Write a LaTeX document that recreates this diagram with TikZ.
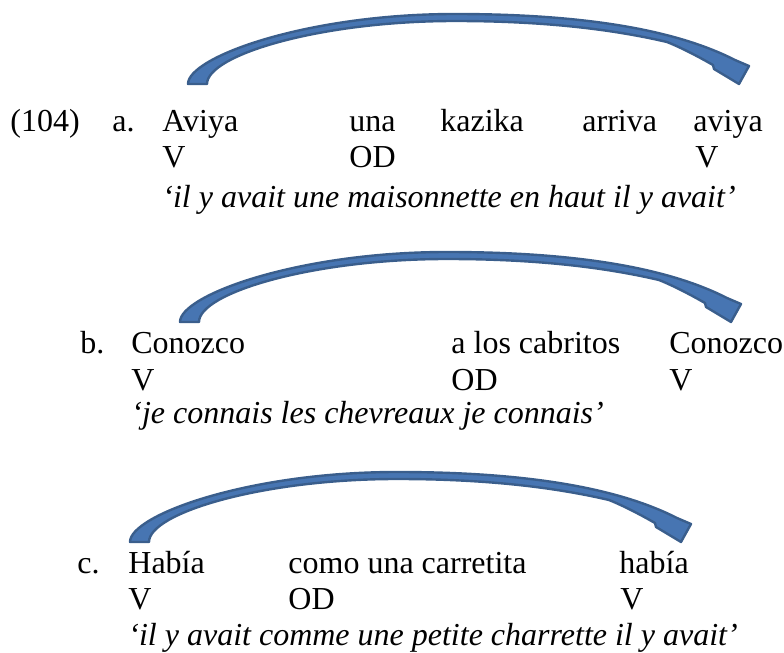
\documentclass[tikz,border=0pt]{standalone}
\usepackage{fontspec}
\setmainfont{Liberation Serif}
\definecolor{arcline}{HTML}{3A5E8C}
\definecolor{arcfill}{HTML}{4775B2}

\begin{document}
\begin{tikzpicture}[x=0.5pt, y=-0.5pt, font=\fontsize{16}{19}\selectfont, word/.style = {anchor=base west, inner sep=0pt}, gloss/.style = {word, font=\fontsize{16}{19}\selectfont\itshape}, arc/.style = {draw=arcline, fill=arcfill, line width=1.2pt, line join=round},
    curved/.pic = {\path[arc] (1,-1) .. controls (1,-28) and (120,-71) .. (268,-71) .. controls (410,-71) and (495,-52) .. (548,-25) -- (562,-19) -- (552,-1) -- (527,-16) -- (526,-20) .. controls (512,-28) and (495,-37) .. (480,-43) .. controls (420,-57) and (350,-64) .. (268,-64) .. controls (133,-64) and (20,-30) .. (20,-1) -- cycle;}]
                    \useasboundingbox (0,0) rectangle (784,653);
                    % (104) a.
                    \node[word] (ex) at (10,132) {(104)};
                    \node[word] (la) at (112,132) {a.};
                    \node[word] (a1) at (162,132) {Aviya};
                    \node[word] (a2) at (349,132) {una};
                    \node[word] (a3) at (440,132) {kazika};
                    \node[word] (a4) at (582,132) {arriva};
                    \node[word] (a5) at (693,132) {aviya};
                    \node[word] (av1) at (162,168) {V};
                    \node[word] (aod) at (349,168) {OD};
                    \node[word] (av2) at (695,168) {V};
                    \node[gloss] (ag) at (162,207) {‘il y avait une maisonnette en haut il y avait’};
                    \pic (arca) at (187,85) {curved};
                    % b.
                    \node[word] (lb) at (80,353) {b.};
                    \node[word] (b1) at (131,353) {Conozco};
                    \node[word] (b2) at (451,353) {a los cabritos};
                    \node[word] (b3) at (669,353) {Conozco};
                    \node[word] (bv1) at (131,390) {V};
                    \node[word] (bod) at (451,390) {OD};
                    \node[word] (bv2) at (669,390) {V};
                    \node[gloss] (bg) at (131,423) {‘je connais les chevreaux je connais’};
                    \pic (arcb) at (179,323) {curved};
                    % c.
                    \node[word] (lc) at (77,573) {c.};
                    \node[word] (c1) at (128,573) {Había};
                    \node[word] (c2) at (288,573) {como una carretita};
                    \node[word] (c3) at (619,573) {había};
                    \node[word] (cv1) at (128,610) {V};
                    \node[word] (cod) at (288,610) {OD};
                    \node[word] (cv2) at (620,610) {V};
                    \node[gloss] (cg) at (128,645) {‘il y avait comme une petite charrette il y avait’};
                    \pic (arcc) at (129,543) {curved};
                \end{tikzpicture}
\end{document}
